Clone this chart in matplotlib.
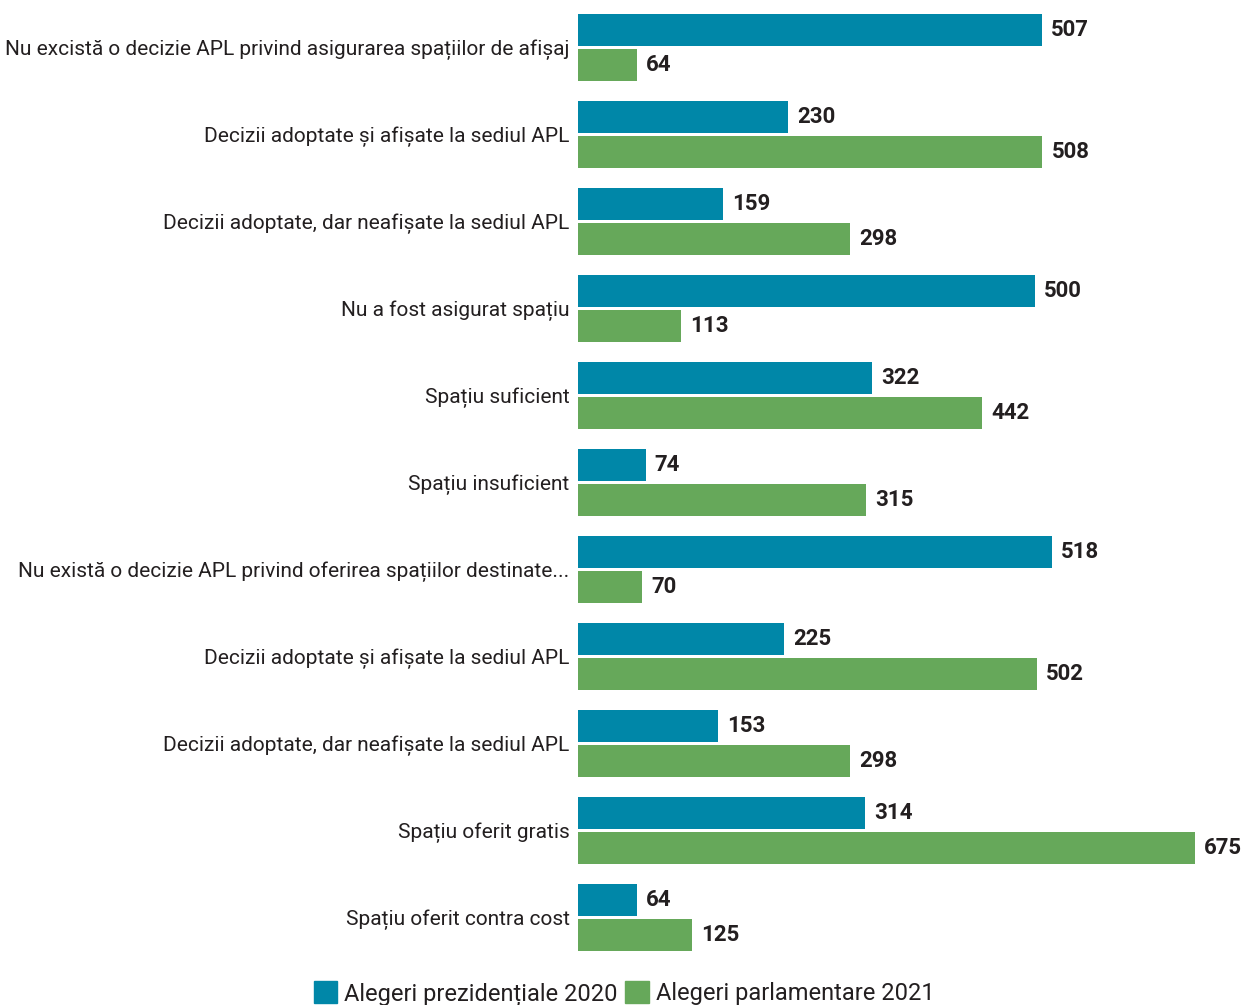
import numpy as np
import matplotlib.pyplot as plt
from matplotlib.patches import Patch

plt.rcParams['font.family'] = ['Roboto', 'DejaVu Sans']

# date
categorii = [
    "Nu excistă o decizie APL privind asigurarea spațiilor de afișaj",
    "Decizii adoptate și afișate la sediul APL",
    "Decizii adoptate, dar neafișate la sediul APL",
    "Nu a fost asigurat spațiu",
    "Spațiu suficient",
    "Spațiu insuficient",
    "Nu există o decizie APL privind oferirea spațiilor destinate...",
    "Decizii adoptate și afișate la sediul APL",
    "Decizii adoptate, dar neafișate la sediul APL",
    "Spațiu oferit gratis",
    "Spațiu oferit contra cost",
]
prezidentiale_2020 = [507, 230, 159, 500, 322, 74, 518, 225, 153, 314, 64]
parlamentare_2021 = [64, 508, 298, 113, 442, 315, 70, 502, 298, 675, 125]
serii = ["Alegeri prezidențiale 2020", "Alegeri parlamentare 2021"]

albastru = "#0087A8"
verde = "#66A85A"

fig = plt.figure(figsize=(12.48, 10.05), dpi=100)
ax = fig.add_axes([578 / 1248, 0.0438, 640 / 1248, 0.952])

y = np.arange(len(categorii))
h = 0.368
off = 0.201
ax.barh(y - off, prezidentiale_2020, height=h, color=albastru)
ax.barh(y + off, parlamentare_2021, height=h, color=verde)

for yi, v in zip(y, prezidentiale_2020):
    ax.text(v + 10, yi - off, str(v), va='center', ha='left',
            fontsize=16, fontweight='bold', color='#231f20')
for yi, v in zip(y, parlamentare_2021):
    ax.text(v + 10, yi + off, str(v), va='center', ha='left',
            fontsize=16, fontweight='bold', color='#231f20')

ax.set_xlim(0, 700)
ax.set_ylim(len(categorii) - 0.5, -0.5)
ax.set_yticks(y)
ax.set_yticklabels(categorii, fontsize=15, color='#231f20')
ax.tick_params(axis='y', length=0, pad=6)
ax.set_xticks([])
for s in ax.spines.values():
    s.set_visible(False)

handles = [Patch(color=albastru), Patch(color=verde)]
fig.legend(handles, serii, loc='lower center', bbox_to_anchor=(0.5, -0.022),
           ncol=2, frameon=False, fontsize=17, handlelength=1.0, handleheight=1.1,
           handletextpad=0.3, columnspacing=0.3, labelcolor='#231f20')

fig.savefig("out.png", dpi=100)
